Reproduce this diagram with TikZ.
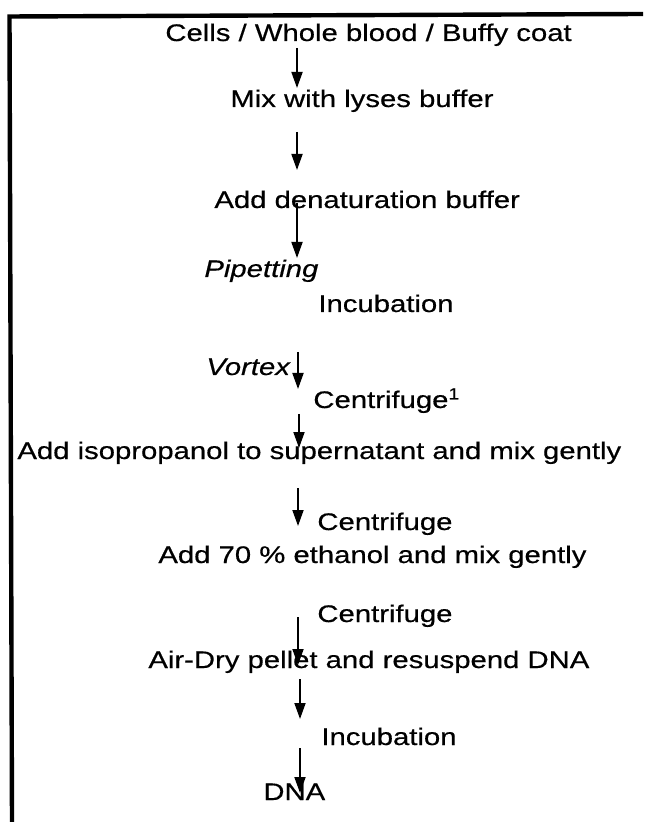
\documentclass[tikz,border=0pt]{standalone}
\usepackage{fontspec}
\setmainfont{Liberation Sans}[FakeStretch=1.22, FakeBold=0.5]
\usetikzlibrary{arrows.meta}

\begin{document}
\begin{tikzpicture}[
    x=0.5pt, y=-0.5pt,
    stage/.style={anchor=base west, inner sep=0pt, font=\fontsize{12}{14.4}\selectfont},
    note/.style={stage, font=\fontsize{12}{14.4}\selectfont\itshape},
    arrow/.style={-{Triangle[length=8pt, width=5.5pt]}, line width=0.9pt},
    frame/.style={line width=2.2pt}
]
    \useasboundingbox (0,0) rectangle (647,822);

    % Frame, top and left edges only
    \coordinate (frameNE) at (643,14);
    \coordinate (frameNW) at (9.5,16.5);
    \coordinate (frameSW) at (12,822);
    \draw[frame] (frameNE) -- (frameNW) -- (frameSW);

    % Steps
    \node[stage] (cells) at (165,41) {Cells / Whole blood / Buffy coat};
    \node[stage] (lysis) at (230,107) {Mix with lyses buffer};
    \node[stage] (denat) at (214,208) {Add denaturation buffer};
    \node[note] (pipet) at (204,277) {Pipetting};
    \node[stage] (incubA) at (318,312) {Incubation};
    \node[note] (vortex) at (206,375) {Vortex};
    \node[stage] (centrA) at (313,408) {Centrifuge\textsuperscript{1}};
    \node[stage] (isoprop) at (17,459) {Add isopropanol to supernatant and mix gently};
    \node[stage] (centrB) at (317,530) {Centrifuge};
    \node[stage] (ethanol) at (158,563) {Add 70 \% ethanol and mix gently};
    \node[stage] (centrC) at (317,622) {Centrifuge};
    \node[stage] (airdry) at (148,668) {Air-Dry pellet and resuspend DNA};
    \node[stage] (incubB) at (321,745) {Incubation};
    \node[stage] (dna) at (263,800) {DNA};

    % Arrow ends
    \coordinate (a1) at (297,48);  \coordinate (b1) at (297,88);
    \coordinate (a2) at (297,132); \coordinate (b2) at (297,170);
    \coordinate (a3) at (297,203); \coordinate (b3) at (297,258);
    \coordinate (a4) at (298,352); \coordinate (b4) at (298,389);
    \coordinate (a5) at (299,414); \coordinate (b5) at (299,448);
    \coordinate (a6) at (298,488); \coordinate (b6) at (298,526);
    \coordinate (a7) at (298,617); \coordinate (b7) at (298,665);
    \coordinate (a8) at (300,679); \coordinate (b8) at (300,719);
    \coordinate (a9) at (300,748); \coordinate (b9) at (300,793);

    \draw[arrow] (a1) -- (b1);
    \draw[arrow] (a2) -- (b2);
    \draw[arrow] (a3) -- (b3);
    \draw[arrow] (a4) -- (b4);
    \draw[arrow] (a5) -- (b5);
    \draw[arrow] (a6) -- (b6);
    \draw[arrow] (a7) -- (b7);
    \draw[arrow] (a8) -- (b8);
    \draw[arrow] (a9) -- (b9);
\end{tikzpicture}
\end{document}
